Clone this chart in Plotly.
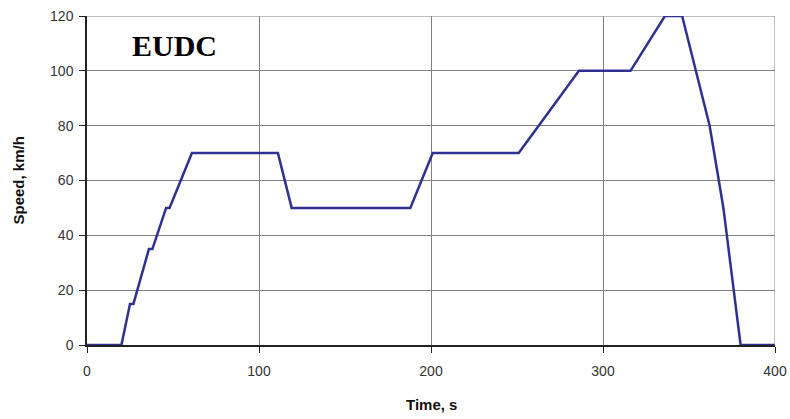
import plotly.graph_objects as go

time_s = [0, 20, 25, 27, 36, 38, 46, 48, 61, 111, 119, 188, 201, 251, 286, 316, 336, 346, 362, 370, 380, 400]
speed_kmh = [0, 0, 15, 15, 35, 35, 50, 50, 70, 70, 50, 50, 70, 70, 100, 100, 120, 120, 80, 50, 0, 0]
x_ticks = [0, 100, 200, 300, 400]
y_ticks = [0, 20, 40, 60, 80, 100, 120]

narrow = "Liberation Sans Narrow, Arial Narrow, Liberation Sans, Arial"
tick_font = dict(family=narrow, size=14, color="#333")

# plot area targets page px x 87..775, y 16..345
PW, PH = 688, 329

fig = go.Figure()
fig.add_trace(go.Scatter(x=time_s, y=speed_kmh, mode="lines",
                         line=dict(color="#2e3192", width=2.5), showlegend=False))

fig.update_layout(
    width=790, height=419,
    margin=dict(l=87, r=15, t=16, b=74),
    plot_bgcolor="white", paper_bgcolor="white",
    annotations=[
        dict(text="<b>EUDC</b>", x=(130 - 87) / PW, y=(345 - 45) / PH, xref="paper", yref="paper",
             xanchor="left", yanchor="middle", showarrow=False,
             font=dict(family="Liberation Serif, Times New Roman, serif", size=30, color="black")),
        dict(text="<b>Time, s</b>", x=0.5, y=-(404 - 345) / PH, xref="paper", yref="paper",
             xanchor="center", yanchor="middle", showarrow=False,
             font=dict(family=narrow, size=15, color="#111")),
        dict(text="<b>Speed, km/h</b>", x=-(87 - 18) / PW, y=0.5, xref="paper", yref="paper",
             xanchor="center", yanchor="middle", showarrow=False, textangle=-90,
             font=dict(family=narrow, size=15, color="#111")),
    ],
)

fig.update_xaxes(range=[0, 400], tickvals=x_ticks, showgrid=True, gridcolor="#808080", gridwidth=1,
                 showline=True, linecolor="#222", linewidth=1.5, ticks="outside", ticklen=6,
                 tickcolor="#222", tickfont=tick_font, zeroline=False, automargin=False,
                 ticklabelstandoff=6)
fig.update_yaxes(range=[0, 120], tickvals=y_ticks, showgrid=True, gridcolor="#808080", gridwidth=1,
                 showline=True, linecolor="#222", linewidth=1.5, ticks="outside", ticklen=6,
                 tickcolor="#222", tickfont=tick_font, zeroline=False, automargin=False,
                 ticklabelstandoff=3)
fig.add_shape(type="line", xref="x", yref="y", x0=400, x1=400, y0=0, y1=120,
              line=dict(color="#808080", width=1))
fig.add_shape(type="line", xref="x", yref="y", x0=0, x1=400, y0=120, y1=120,
              line=dict(color="#808080", width=1), layer="below")

fig.write_html("out.html", config={"displayModeBar": False},
               post_script="document.body.style.margin='0';")
